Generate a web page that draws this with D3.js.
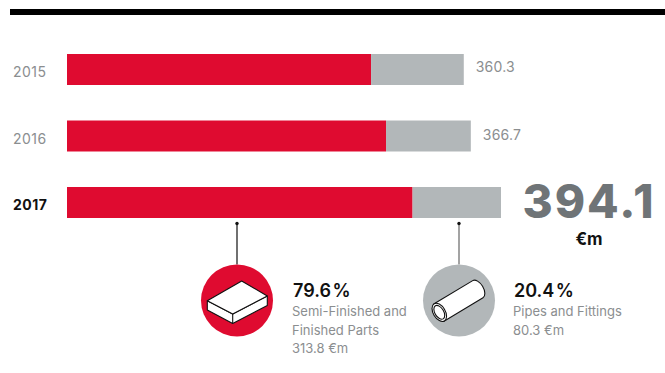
<!DOCTYPE html>
<html>
<head>
<meta charset="utf-8">
<script src="https://cdnjs.cloudflare.com/ajax/libs/d3/7.8.5/d3.min.js"></script>
<style>
  html, body { margin: 0; padding: 0; background: #fff; }
  svg { display: block; }
  text { font-family: Inter, "Liberation Sans", Arial, sans-serif; }
</style>
</head>
<body>
<div id="chart"></div>
<script>
// Sales by product group, € million
const years = ["2015", "2016", "2017"];
const semiFinished = [276.1, 289.7, 313.8];
const pipes = [84.2, 77.0, 80.3];
const totals = ["360.3", "366.7", "394.1"];
const shares = ["79.6 %", "20.4 %"];
const groupNames = [["Semi-Finished and", "Finished Parts", "313.8 €m"], ["Pipes and Fittings", "80.3 €m"]];

const RED = "#df0b30", GREY = "#b2b7b9", TEXT_GREY = "#8b8e90", INK = "#111";

const svg = d3.select("#chart").append("svg").attr("width", 665).attr("height", 373);

svg.append("rect").attr("x", 10).attr("y", 9).attr("width", 655).attr("height", 6).attr("fill", "#000");

const x = d3.scaleLinear().domain([0, 394.1]).range([67, 501]);
const y = d3.scaleBand().domain(years).range([54, 218]).paddingInner(0.534);

const rows = svg.selectAll("g.row").data(years).join("g").attr("class", "row");

rows.append("rect")
  .attr("x", x(0)).attr("y", d => y(d)).attr("height", y.bandwidth())
  .attr("width", (d, i) => x(semiFinished[i]) - x(0)).attr("fill", RED);

rows.append("rect")
  .attr("x", (d, i) => x(semiFinished[i])).attr("y", d => y(d)).attr("height", y.bandwidth())
  .attr("width", (d, i) => x(semiFinished[i] + pipes[i]) - x(semiFinished[i])).attr("fill", GREY);

rows.append("text")
  .attr("x", 13).attr("y", d => y(d) + 23)
  .attr("font-size", 14).attr("letter-spacing", 0.5)
  .attr("font-weight", (d, i) => i === 2 ? 700 : 400)
  .attr("fill", (d, i) => i === 2 ? INK : TEXT_GREY)
  .text(d => d);

// Plain totals for the earlier years, the latest one gets the large figure
rows.filter((d, i) => i < 2).append("text")
  .attr("x", (d, i) => x(semiFinished[i] + pipes[i]) + 12)
  .attr("y", (d, i) => y(d) + 18 + i)
  .attr("font-size", 14).attr("letter-spacing", 0.2).attr("fill", TEXT_GREY)
  .text((d, i) => totals[i]);

svg.append("text").attr("x", 589).attr("y", 218).attr("text-anchor", "middle")
  .attr("font-size", 46).attr("font-weight", 800).attr("letter-spacing", 2)
  .attr("fill", "#6f7477").text(totals[2]);
svg.append("text").attr("x", 589).attr("y", 245).attr("text-anchor", "middle")
  .attr("font-size", 17).attr("font-weight", 700).attr("fill", INK).text("€m");

// Callouts for the latest year
const callouts = [
  { cx: 237, fill: RED, stem: "#111", tx: 293 },
  { cx: 459, fill: GREY, stem: "#666", tx: 514 }
];
const cy = 300.5, r = 36;

const groups = svg.selectAll("g.callout").data(callouts).join("g").attr("class", "callout");
groups.append("line")
  .attr("x1", d => d.cx).attr("x2", d => d.cx).attr("y1", 223.5).attr("y2", cy - r)
  .attr("stroke", d => d.stem).attr("stroke-width", 1.2);
groups.append("circle").attr("cx", d => d.cx).attr("cy", 223.5).attr("r", 1.7).attr("fill", "#111");
groups.append("circle").attr("cx", d => d.cx).attr("cy", cy).attr("r", r).attr("fill", d => d.fill);

groups.append("text")
  .attr("x", d => d.tx).attr("y", 297)
  .attr("font-size", 18).attr("font-weight", 600).attr("word-spacing", -3).attr("fill", INK)
  .text((d, i) => shares[i]);

groups.each(function (d, i) {
  d3.select(this).selectAll("text.desc").data(groupNames[i]).join("text")
    .attr("class", "desc")
    .attr("x", d.tx - 1).attr("y", (t, j) => 316 + j * 18.5)
    .attr("font-size", 13).attr("fill", TEXT_GREY)
    .text(t => t);
});

// Slab icon
const slab = svg.append("g").attr("transform", `translate(${callouts[0].cx},${cy})`)
  .attr("fill", "#fff").attr("stroke", "#111").attr("stroke-width", 1.1).attr("stroke-linejoin", "round");
slab.append("path").attr("d", "M-29.7,0.2 L-29.7,9.5 L-4.3,23 L30.3,5 L30.3,-4.5 L-4.3,13.5 Z");
slab.append("path").attr("d", "M4.7,-19.5 L30.3,-4.5 L-4.3,13.5 L-29.7,0.2 Z");
slab.append("path").attr("d", "M-4.3,13.5 L-4.3,23");

// Pipe icon
const pipe = svg.append("g").attr("transform", `translate(${callouts[1].cx},${cy}) rotate(-31)`)
  .attr("fill", "#fff").attr("stroke", "#111").attr("stroke-width", 1.1);
pipe.append("path").attr("d", "M-23,-10 L22,-10 A5.5,10 0 0 1 22,10 L-23,10 Z");
pipe.append("ellipse").attr("cx", -23).attr("cy", 0).attr("rx", 6).attr("ry", 10);
pipe.append("ellipse").attr("cx", -23).attr("cy", 0).attr("rx", 4.4).attr("ry", 7.6);
</script>
</body>
</html>
